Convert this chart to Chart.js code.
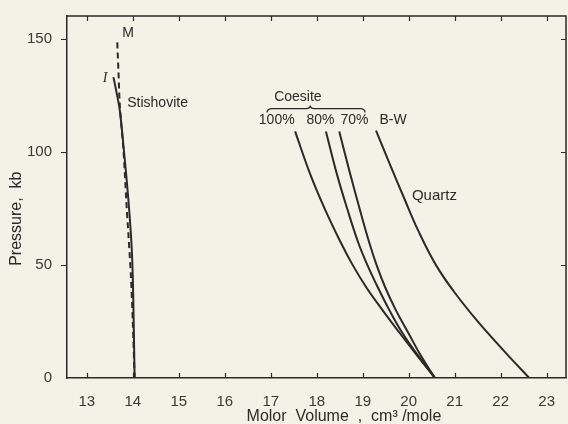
<!DOCTYPE html>
<html>
<head>
<meta charset="utf-8">
<script src="https://cdn.jsdelivr.net/npm/chart.js@4.4.1/dist/chart.umd.min.js"></script>
<style>
  html, body { margin:0; padding:0; background:#f4f1e6; }
  #wrap { width:568px; height:424px; }
</style>
</head>
<body>
<div id="wrap"><canvas id="volChart" width="568" height="424"></canvas></div>
<script>
/* values: molar volume (cm3/mole) against pressure (kb) */

let xTicks = [13,14,15,16,17,18,19,20,21,22,23];
let yTicks = [0,50,100,150];

let stishIVol   = [14.04,14.02,14.00,13.97,13.90,13.81,13.72,13.64,13.58];
let stishIPress = [0,25,45,60,80,100,118,127,133];

let stishMVol   = [14.04,14.00,13.96,13.91,13.86,13.80,13.72,13.69,13.66];
let stishMPress = [0,25,45,62,78,100,120,135,150];

let coePress    = [109,90,75,60,50,40,30,20,10,0];
let coe100Vol   = [17.53,17.86,18.17,18.52,18.78,19.08,19.43,19.80,20.18,20.57];
let coe80Vol    = [18.20,18.44,18.66,18.90,19.10,19.33,19.58,19.86,20.20,20.57];
let coe70Vol    = [18.49,18.73,18.93,19.14,19.30,19.49,19.72,19.99,20.26,20.57];

let quartzPress = [109.3,95,80,65,50,38,25,12,0];
let quartzVol   = [19.29,19.58,19.89,20.21,20.59,20.99,21.50,22.07,22.62];

const ink = '#2b2a27';
const paper = '#f4f1e6';
const font = '"Liberation Sans", Arial, sans-serif';

function pts(vol, press)
{
    return vol.map((v,i)=>({x:v, y:press[i]}));
}

function curve(vol, press, opts)
{
    return Object.assign({
        data: pts(vol, press),
        showLine: true,
        borderColor: ink,
        borderWidth: 2,
        pointRadius: 0,
        tension: 0.4
    }, opts || {});
}

/* frame, inward ticks, labels, brace, axis titles */
const frame = {
    id: 'frame',
    beforeDraw(chart)
    {
        const ctx = chart.ctx;
        ctx.save();
        ctx.fillStyle = paper;
        ctx.fillRect(0, 0, chart.width, chart.height);
        ctx.restore();
    },
    afterDraw(chart)
    {
        const {ctx, chartArea:a, scales:{x, y}} = chart;
        ctx.save();
        ctx.strokeStyle = ink;
        ctx.lineWidth = 1.5;
        ctx.beginPath();
        ctx.moveTo(a.left, a.top);
        ctx.lineTo(a.right, a.top);
        ctx.lineTo(a.right, a.bottom);
        ctx.stroke();

        ctx.lineWidth = 1.2;
        ctx.beginPath();
        x.ticks.forEach(t=>{
            const px = Math.round(x.getPixelForValue(t.value)) + 0.5;
            ctx.moveTo(px, a.bottom); ctx.lineTo(px, a.bottom - 5);
            ctx.moveTo(px, a.top);    ctx.lineTo(px, a.top + 5);
        });
        y.ticks.forEach(t=>{
            if (t.value === 0) return;
            const py = Math.round(y.getPixelForValue(t.value)) + 0.5;
            ctx.moveTo(a.left - 6, py); ctx.lineTo(a.left, py);
            ctx.moveTo(a.right, py);    ctx.lineTo(a.right - 5, py);
        });
        ctx.stroke();

        // curve labels, placed in data units
        ctx.fillStyle = ink;
        ctx.textBaseline = 'middle';
        const label = (txt, v, p, align, size)=>{
            ctx.font = (size || 14) + 'px ' + font;
            ctx.textAlign = align || 'center';
            ctx.fillText(txt, x.getPixelForValue(v), y.getPixelForValue(p));
        };
        label('M', 13.77, 152.6, 'left');
        ctx.font = 'italic 14px "Liberation Serif", serif';
        ctx.textAlign = 'center';
        ctx.fillText('I', x.getPixelForValue(13.40), y.getPixelForValue(132.6));
        label('Stishovite', 13.88, 121.7, 'left');
        label('Coesite', 17.59, 124.3);
        label('100%', 17.13, 113.9);
        label('80%', 18.08, 113.9);
        label('70%', 18.82, 113.9);
        label('B-W', 19.66, 113.9);
        label('Quartz', 20.07, 80.4, 'left', 15);

        // brace under "Coesite"
        const bx0 = x.getPixelForValue(16.92);
        const bx1 = x.getPixelForValue(19.05);
        const bxm = x.getPixelForValue(17.86);
        const by = y.getPixelForValue(119.1);
        ctx.lineWidth = 1.3;
        ctx.beginPath();
        ctx.moveTo(bx0, by + 4);
        ctx.quadraticCurveTo(bx0, by, bx0 + 5, by);
        ctx.lineTo(bxm - 4, by);
        ctx.quadraticCurveTo(bxm, by, bxm, by - 3);
        ctx.quadraticCurveTo(bxm, by, bxm + 4, by);
        ctx.lineTo(bx1 - 5, by);
        ctx.quadraticCurveTo(bx1, by, bx1, by + 4);
        ctx.stroke();

        // axis titles
        ctx.font = '16px ' + font;
        ctx.textAlign = 'center';
        ctx.fillText('Molor  Volume  ,  cm\u00b3 /mole', a.left + (a.right - a.left) * 0.555, a.bottom + 39);
        ctx.translate(17, a.top + (a.bottom - a.top) * 0.56);
        ctx.rotate(-Math.PI / 2);
        ctx.fillText('Pressure,  kb', 0, 0);
        ctx.restore();
    }
};

new Chart(
    document.getElementById('volChart'),
    {
        type: 'scatter',
        data: {
            datasets: [
                curve(stishIVol, stishIPress, { tension: 0.3 }),
                curve(stishMVol, stishMPress, { tension: 0.3, borderDash: [6,4] }),
                curve(coe100Vol, coePress),
                curve(coe80Vol, coePress),
                curve(coe70Vol, coePress),
                curve(quartzVol, quartzPress)
            ]
        },
        options: {
            responsive: false,
            animation: false,
            devicePixelRatio: 1,
            layout: { padding: { top: 10, right: 2, left: 0, bottom: 0 } },
            plugins: {
                legend: { display: false },
                tooltip: { enabled: false }
            },
            scales: {
                x: {
                    type: 'linear',
                    min: 12.57,
                    max: 23.42,
                    afterBuildTicks: s => { s.ticks = xTicks.map(v=>({value:v})); },
                    afterFit: s => { s.height = 46; },
                    grid: { display: false },
                    border: { display: true, color: ink, width: 1.5 },
                    ticks: {
                        padding: 7,
                        color: '#3a3935',
                        font: { family: font, size: 15 },
                        maxRotation: 0,
                        autoSkip: false
                    }
                },
                y: {
                    type: 'linear',
                    min: 0,
                    max: 160,
                    afterBuildTicks: s => { s.ticks = yTicks.map(v=>({value:v})); },
                    afterFit: s => { s.width = 67; },
                    grid: { display: false },
                    border: { display: true, color: ink, width: 1.5 },
                    ticks: {
                        padding: 7,
                        color: '#3a3935',
                        font: { family: font, size: 15 }
                    }
                }
            }
        },
        plugins: [frame]
    }
);
</script>
</body>
</html>
